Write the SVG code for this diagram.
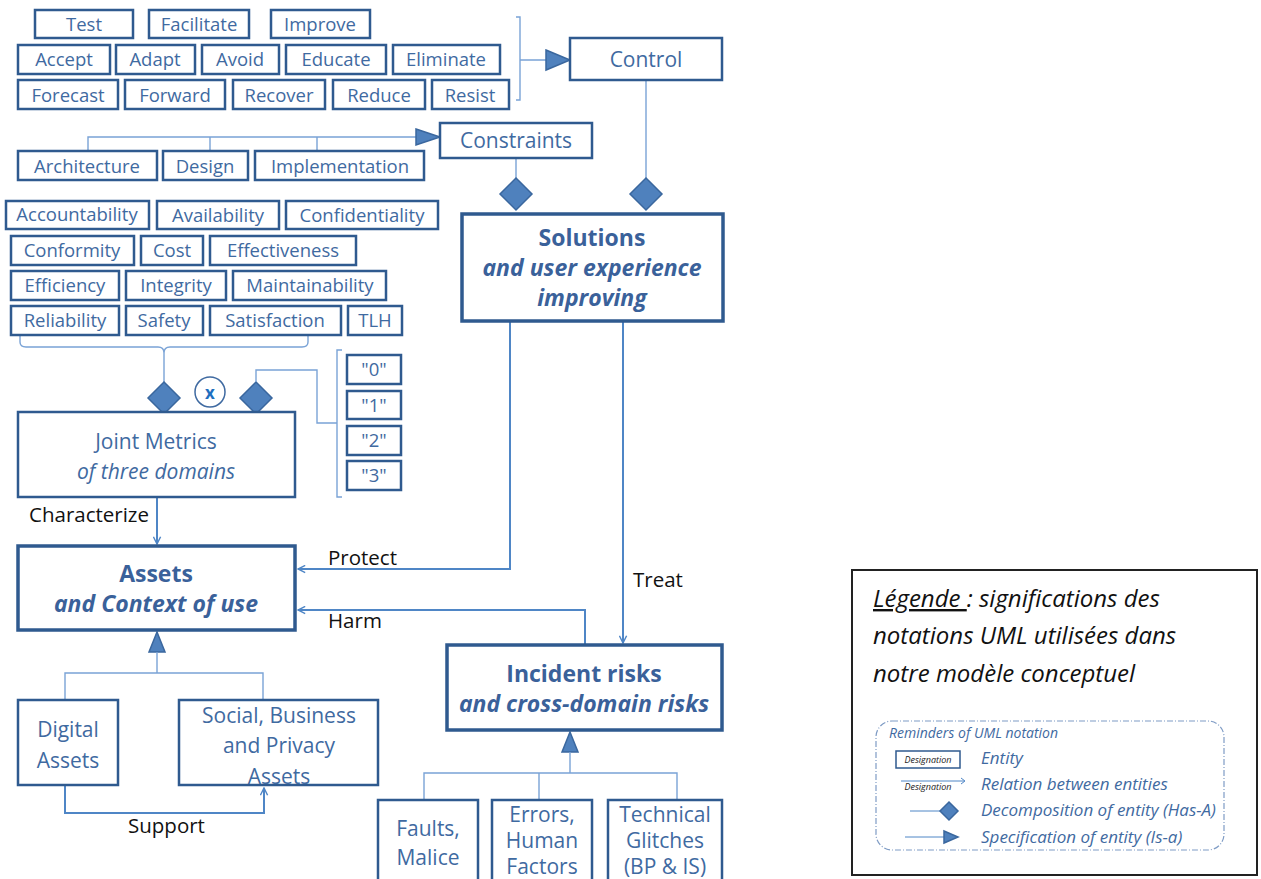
<svg xmlns="http://www.w3.org/2000/svg" width="1261" height="879" viewBox="0 0 1261 879">
<style>
.b{fill:#fff;stroke:#2f5a8f;stroke-width:2.5}
.B{fill:#fff;stroke:#2f5a8f;stroke-width:3.5}
.t{font-family:"Open Sans","Liberation Sans",sans-serif;font-size:18.5px;fill:#3f6aa1;text-anchor:middle}
.T{font-family:"Open Sans","Liberation Sans",sans-serif;font-size:21px;fill:#3f6aa1;text-anchor:middle}
.h{font-family:"Open Sans","Liberation Sans",sans-serif;font-size:23px;fill:#3a619a;text-anchor:middle;font-weight:bold}
.hi{font-style:italic}
.l{font-family:"Open Sans","Liberation Sans",sans-serif;font-size:20.5px;fill:#111}
.thin{fill:none;stroke:#7aa3d6;stroke-width:1.4}
.rel{fill:none;stroke:#4f86c6;stroke-width:2}
.dia{fill:#4f81bd;stroke:#3a679e;stroke-width:1.5}
.lg{font-family:"Open Sans","Liberation Sans",sans-serif;font-style:italic;font-size:24px;fill:#111}
.lb{font-family:"Open Sans","Liberation Sans",sans-serif;font-style:italic;fill:#3f6aa1}
</style>
<defs>
<marker id="open" viewBox="0 0 10 10" refX="9" refY="5" markerWidth="9" markerHeight="9" markerUnits="userSpaceOnUse" orient="auto">
<path d="M1,1 L9,5 L1,9" fill="none" stroke="#4f86c6" stroke-width="1.6"/>
</marker>
</defs>

<g id="connectors">
<path class="thin" d="M516,17 H520 V100 H516 M520,60 H548"/>
<polygon class="dia" points="546,50 570,60 546,70"/>
<path class="thin" d="M88,150 V137 H418 M210,137 V150 M317,137 V150"/>
<polygon class="dia" points="416,129 440,137 416,145"/>
<path class="thin" d="M516,158 V178 M646,80 V178"/>
<polygon class="dia" points="516,178 532,194 516,210 500,194"/>
<polygon class="dia" points="646,178 662,194 646,210 630,194"/>
<path class="thin" d="M20,335 V342 Q20,347 26,347 H158 Q164,347 164,353 V382 M164,353 Q164,347 170,347 H302 Q308,347 308,342 V335"/>
<polygon class="dia" points="164,382 180,398 164,414 148,398"/>
<polygon class="dia" points="256,382 272,398 256,414 240,398"/>
<path class="thin" d="M256,382 V370 H317 V423 H333"/>
<path class="thin" d="M342,350 H337 V497 H342 M337,423 H333"/>
<circle cx="210" cy="392" r="15" fill="#fff" stroke="#3f6aa1" stroke-width="1.5"/>
<text x="210" y="399" font-family="Open Sans, Liberation Sans, sans-serif" font-size="17" font-weight="bold" fill="#1f6fc0" text-anchor="middle">x</text>
<path class="rel" d="M157,497 V544" marker-end="url(#open)"/>
<path class="rel" d="M510,321 V569 H298" marker-end="url(#open)"/>
<path class="rel" d="M623,321 V643" marker-end="url(#open)"/>
<path class="rel" d="M585,645 V610 H298" marker-end="url(#open)"/>
<polygon class="dia" points="157,632 165,652 149,652"/>
<path class="thin" d="M157,652 V673 M65,700 V673 H263 V700"/>
<path class="rel" d="M65,785 V813 H264 V788" stroke-width="1.6" marker-end="url(#open)"/>
<polygon class="dia" points="570,732 578,752 562,752"/>
<path class="thin" d="M570,752 V773 M424,800 V773 H677 V800 M539,773 V800"/>
</g>

<g id="labels">
<text class="l" x="29" y="522">Characterize</text>
<text class="l" x="328" y="565">Protect</text>
<text class="l" x="328" y="628">Harm</text>
<text class="l" x="633" y="587">Treat</text>
<text class="l" x="128" y="833">Support</text>
</g>

<g id="n-test"><rect class="b" x="35" y="10" width="98" height="28"/><text class="t" x="84" y="30.5">Test</text></g>
<g id="n-facilitate"><rect class="b" x="149" y="10" width="100" height="28"/><text class="t" x="199" y="30.5">Facilitate</text></g>
<g id="n-improve"><rect class="b" x="271" y="10" width="99" height="28"/><text class="t" x="320" y="30.5">Improve</text></g>
<g id="n-accept"><rect class="b" x="18" y="45" width="92" height="29"/><text class="t" x="64" y="66">Accept</text></g>
<g id="n-adapt"><rect class="b" x="116" y="45" width="79" height="29"/><text class="t" x="155" y="66">Adapt</text></g>
<g id="n-avoid"><rect class="b" x="202" y="45" width="77" height="29"/><text class="t" x="240" y="66">Avoid</text></g>
<g id="n-educate"><rect class="b" x="286" y="45" width="100" height="29"/><text class="t" x="336" y="66">Educate</text></g>
<g id="n-eliminate"><rect class="b" x="393" y="45" width="107" height="29"/><text class="t" x="446" y="66">Eliminate</text></g>
<g id="n-forecast"><rect class="b" x="18" y="80" width="100" height="29"/><text class="t" x="68" y="101.5">Forecast</text></g>
<g id="n-forward"><rect class="b" x="125" y="80" width="100" height="29"/><text class="t" x="175" y="101.5">Forward</text></g>
<g id="n-recover"><rect class="b" x="233" y="80" width="92" height="29"/><text class="t" x="279" y="101.5">Recover</text></g>
<g id="n-reduce"><rect class="b" x="333" y="80" width="92" height="29"/><text class="t" x="379" y="101.5">Reduce</text></g>
<g id="n-resist"><rect class="b" x="432" y="80" width="77" height="29"/><text class="t" x="470" y="101.5">Resist</text></g>

<g id="n-control"><rect class="b" x="570" y="38" width="152" height="42"/><text class="T" x="646" y="67">Control</text></g>
<g id="n-constraints"><rect class="b" x="440" y="123" width="152" height="35"/><text class="T" x="516" y="148">Constraints</text></g>

<g id="n-architecture"><rect class="b" x="18" y="151" width="139" height="29"/><text class="t" x="87" y="172.5">Architecture</text></g>
<g id="n-design"><rect class="b" x="163" y="151" width="85" height="29"/><text class="t" x="205" y="172.5">Design</text></g>
<g id="n-implementation"><rect class="b" x="255" y="151" width="169" height="29"/><text class="t" x="340" y="172.5">Implementation</text></g>

<g id="n-accountability"><rect class="b" x="6" y="201" width="143" height="28"/><text class="t" x="77" y="220.5" font-size="14.5">Accountability</text></g>
<g id="n-availability"><rect class="b" x="157" y="201" width="122" height="28"/><text class="t" x="218" y="221.5">Availability</text></g>
<g id="n-confidentiality"><rect class="b" x="286" y="201" width="152" height="28"/><text class="t" x="362" y="221.5">Confidentiality</text></g>
<g id="n-conformity"><rect class="b" x="11" y="236" width="123" height="29"/><text class="t" x="72" y="257">Conformity</text></g>
<g id="n-cost"><rect class="b" x="141" y="236" width="62" height="29"/><text class="t" x="172" y="257">Cost</text></g>
<g id="n-effectiveness"><rect class="b" x="210" y="236" width="146" height="29"/><text class="t" x="283" y="257">Effectiveness</text></g>
<g id="n-efficiency"><rect class="b" x="11" y="271" width="108" height="29"/><text class="t" x="65" y="292">Efficiency</text></g>
<g id="n-integrity"><rect class="b" x="126" y="271" width="100" height="29"/><text class="t" x="176" y="292">Integrity</text></g>
<g id="n-maintainability"><rect class="b" x="233" y="271" width="153" height="29"/><text class="t" x="310" y="292">Maintainability</text></g>
<g id="n-reliability"><rect class="b" x="11" y="306" width="108" height="29"/><text class="t" x="65" y="327">Reliability</text></g>
<g id="n-safety"><rect class="b" x="126" y="306" width="77" height="29"/><text class="t" x="164" y="327">Safety</text></g>
<g id="n-satisfaction"><rect class="b" x="210" y="306" width="131" height="29"/><text class="t" x="275" y="327">Satisfaction</text></g>
<g id="n-tlh"><rect class="b" x="348" y="306" width="54" height="29"/><text class="t" x="375" y="327">TLH</text></g>

<g id="n-v0"><rect class="b" x="347" y="355" width="54" height="29"/><text class="t" x="374" y="376">"0"</text></g>
<g id="n-v1"><rect class="b" x="347" y="391" width="54" height="28"/><text class="t" x="374" y="411.5">"1"</text></g>
<g id="n-v2"><rect class="b" x="347" y="426" width="54" height="29"/><text class="t" x="374" y="447">"2"</text></g>
<g id="n-v3"><rect class="b" x="347" y="461" width="54" height="29"/><text class="t" x="374" y="482">"3"</text></g>

<g id="n-solutions"><rect class="B" x="462" y="214" width="261" height="107"/>
<text class="h" x="592" y="246">Solutions</text>
<text class="h hi" x="592" y="276">and user experience</text>
<text class="h hi" x="592" y="306">improving</text></g>

<g id="n-metrics"><rect class="b" x="18" y="412" width="277" height="85"/>
<text class="T" x="156" y="449" font-size="25">Joint Metrics</text>
<text class="T hi" x="156" y="479" font-size="25">of three domains</text></g>

<g id="n-assets"><rect class="B" x="18" y="546" width="277" height="84"/>
<text class="h" x="156" y="582">Assets</text>
<text class="h hi" x="156" y="612">and Context of use</text></g>

<g id="n-digital"><rect class="b" x="18" y="700" width="100" height="85"/>
<text class="T" x="68" y="737" font-size="24.5">Digital</text>
<text class="T" x="68" y="768" font-size="24.5">Assets</text></g>

<g id="n-social"><rect class="b" x="179" y="700" width="199" height="85"/>
<text class="T" x="279" y="723" font-size="24.5">Social, Business</text>
<text class="T" x="279" y="753" font-size="24.5">and Privacy</text>
<text class="T" x="279" y="784" font-size="24.5">Assets</text></g>

<g id="n-incident"><rect class="B" x="447" y="645" width="275" height="85"/>
<text class="h" x="584" y="682">Incident risks</text>
<text class="h hi" x="584" y="712">and cross-domain risks</text></g>

<g id="n-faults"><rect class="b" x="378" y="800" width="100" height="85"/>
<text class="T" x="428" y="836">Faults,</text>
<text class="T" x="428" y="865">Malice</text></g>
<g id="n-errors"><rect class="b" x="492" y="800" width="100" height="85"/>
<text class="T" x="542" y="822" font-size="19">Errors,</text>
<text class="T" x="542" y="848" font-size="19">Human</text>
<text class="T" x="542" y="874" font-size="19">Factors</text></g>
<g id="n-technical"><rect class="b" x="608" y="800" width="114" height="85"/>
<text class="T" x="665" y="822" font-size="19">Technical</text>
<text class="T" x="665" y="848" font-size="19">Glitches</text>
<text class="T" x="665" y="874" font-size="19">(BP &amp; IS)</text></g>

<g id="legend">
<rect x="852" y="570" width="405" height="305" fill="#fff" stroke="#222" stroke-width="2"/>
<text class="lg" x="873" y="607"><tspan text-decoration="underline">Légende </tspan>: significations des</text>
<text class="lg" x="873" y="644">notations UML utilisées dans</text>
<text class="lg" x="873" y="682">notre modèle conceptuel</text>
<rect x="876" y="721" width="348" height="129" rx="16" fill="none" stroke="#7f9cc5" stroke-width="1.2" stroke-dasharray="6 2 1 2"/>
<text class="lb" x="889" y="738" font-size="14">Reminders of UML notation</text>
<rect x="896" y="751" width="64" height="17" fill="#fff" stroke="#2f5a8f" stroke-width="1.5"/>
<text x="928" y="763" font-family="Open Sans, Liberation Sans, sans-serif" font-style="italic" font-size="9" fill="#222" text-anchor="middle">Designation</text>
<text class="lb" x="981" y="764" font-size="17">Entity</text>
<path d="M901,781 H964" stroke="#4f86c6" stroke-width="1"/>
<path d="M961,778 L965,781 L961,784" fill="none" stroke="#4f86c6" stroke-width="1"/>
<text x="928" y="790" font-family="Open Sans, Liberation Sans, sans-serif" font-style="italic" font-size="9" fill="#222" text-anchor="middle">Designation</text>
<text class="lb" x="981" y="790" font-size="17">Relation between entities</text>
<path d="M910,811 H940" stroke="#4f86c6" stroke-width="1"/>
<polygon class="dia" points="949,802 958,811 949,820 940,811"/>
<text class="lb" x="981" y="816" font-size="17">Decomposition of entity (Has-A)</text>
<path d="M905,837 H944" stroke="#4f86c6" stroke-width="1"/>
<polygon class="dia" points="944,831 958,837 944,843"/>
<text class="lb" x="981" y="843" font-size="17">Specification of entity (Is-a)</text>
</g>
</svg>
